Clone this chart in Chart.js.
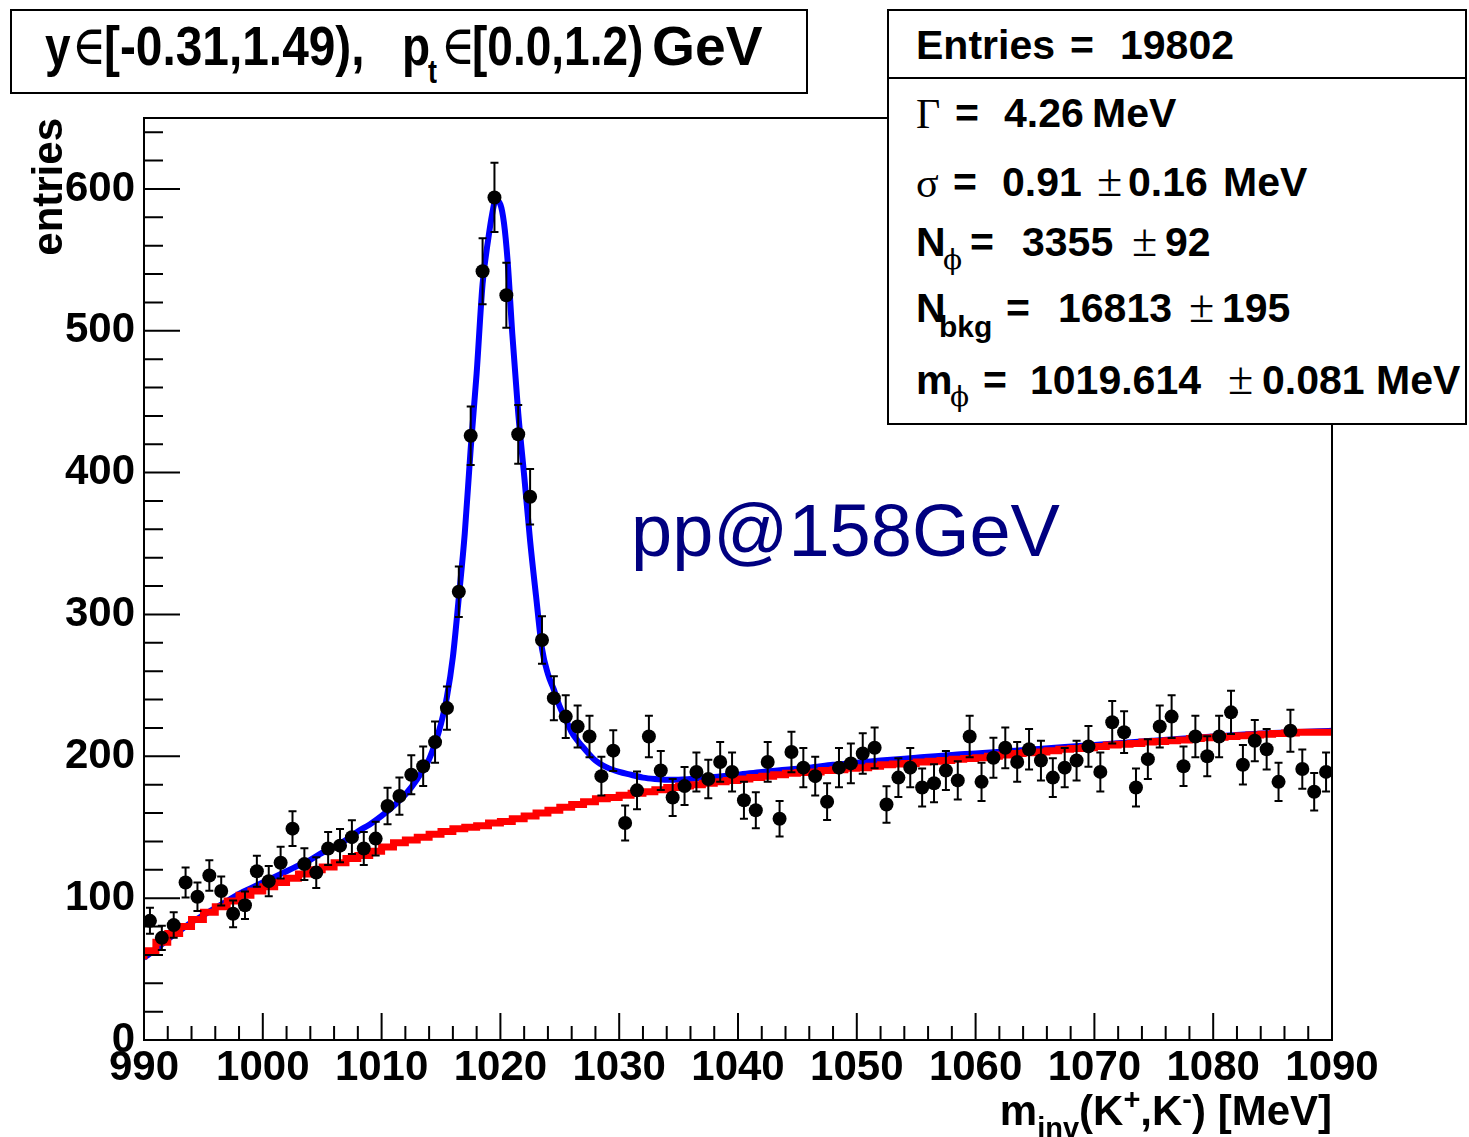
<!DOCTYPE html>
<html><head><meta charset="utf-8">
<script src="https://cdn.jsdelivr.net/npm/chart.js@4.4.1/dist/chart.umd.min.js"></script>
<style>
html,body{margin:0;padding:0;background:#fff;}
#wrap{position:relative;width:1469px;height:1137px;overflow:hidden;background:#fff;}
canvas{position:absolute;left:0;top:0;}
.t{position:absolute;white-space:nowrap;font-family:'Liberation Sans',Arial,Helvetica,sans-serif;font-weight:bold;color:#000;}
.g{font-family:'Liberation Serif','DejaVu Serif','Times New Roman',serif;font-weight:normal;}
.p{font-family:'DejaVu Serif','Liberation Serif',serif;font-weight:normal;}
.box{position:absolute;background:#fff;border:2px solid #000;box-sizing:border-box;}
</style></head>
<body><div id="wrap"><canvas id="c" width="1469" height="1137"></canvas></div>
<script>
// ---- data ----
const xMin = 990, xMax = 1090, nBins = 100;          // m_inv range [MeV], 1 MeV bins
const counts = [
  84, 72, 81,111,101,116,105, 89, 95,119,
 112,125,149,124,118,135,137,143,135,142,
 165,172,187,193,210,234,316,426,542,594,
 525,427,383,282,241,228,221,214,186,204,
 153,176,214,190,171,179,189,184,196,189,
 169,162,196,156,203,192,186,168,192,195,
 202,206,166,185,192,178,181,190,183,214,
 182,199,206,196,205,197,185,192,197,207,
 189,224,217,178,198,221,228,193,214,200,
 214,231,194,211,205,182,218,191,175,189];
// background fit (red), value per 1 MeV bin
const background = [
  57, 63, 69, 75, 80, 85, 90, 94, 98,102,
 105,108,111,114,117,120,122,125,128,130,
 133,136,139,141,143,145,147,149,150,151,
 153,154,156,158,160,162,164,166,168,170,
 171,172.5,174,175,176.5,178,179,180,181,182,
 183,184,185,186,187,188,188.5,189,190,190.5,
 191.5,192,193,194,194.5,195,196,196.5,197,198,
 198.5,199,200,201,202,202.5,203,204,205,205.5,
 206,207,208,208.5,209,210,210.5,211,211.5,212.5,
 213,213.5,214,214.5,215,215.5,216,216.5,217,217];
// full fit (blue): signal + background
const fitMass = [990,991,992,993,994,995,996,997,998,999,1000,1001,1002,1003,1004,1005,1006,1007,1008,1009,1010,1011,1012,1013,1014,
  1014.5,1015,1015.5,1016,1016.5,1017,1017.5,1018,1018.5,1019,1019.3,1019.6,1020,1020.3,1020.6,1021,1021.5,1022,1022.5,1023,1023.5,1024,1024.5,1025,1025.5,1026,1026.5,1027,
  1028,1029,1030,1031,1032,1033,1034,1035,1036,1038,1040,1042,1044,1046,1048,1050,1052,1055,1058,1060,1065,1070,1075,1080,1085,1090];
const fitValue = [58,64,71,77,83,88,93,98,103,107,111,115,119,123,127,132,136,141,147,152,158,165,173,184,198,
  209,223,242,270,312,357,417,470,533,566,582,592,589,576,550,498,442,398,352,313,276,258,247,235,226,217,211,206,
  197,192,189,187,185,184,183.5,183.5,184,185.5,187,189,190.5,192,194,195.5,197,199,201,202,205,208,211,214,216.5,218];
const xTickLabels = [990,1000,1010,1020,1030,1040,1050,1060,1070,1080,1090];
const yTickLabels = [0,100,200,300,400,500,600];

// ---- derived ----
const binW = (xMax - xMin) / nBins;
const centers = counts.map((_, i) => xMin + (i + 0.5) * binW);
const errors = counts.map(v => Math.sqrt(v));              // Poisson errors
const dataPts = counts.map((v, i) => ({x: centers[i], y: v}));
const bkgPts = background.map((v, i) => ({x: xMin + i * binW, y: v}));
bkgPts.push({x: xMax, y: background[background.length - 1]});
const fitPts = fitMass.map((m, i) => ({x: m, y: fitValue[i]}));

const FONT = "'Liberation Sans', Arial, Helvetica, sans-serif";

const rootStyle = {
  id: 'rootStyle',
  beforeDatasetDraw(chart, args) {
    if (args.index !== 0) return;
    const {ctx, chartArea: ca, scales: {x, y}} = chart;
    ctx.save();
    ctx.beginPath(); ctx.rect(ca.left, ca.top, ca.right - ca.left, ca.bottom - ca.top); ctx.clip();
    ctx.strokeStyle = '#000'; ctx.lineWidth = 2;
    counts.forEach((v, i) => {
      const px = x.getPixelForValue(centers[i]);
      const y1 = y.getPixelForValue(v + errors[i]);
      const y2 = y.getPixelForValue(Math.max(0, v - errors[i]));
      ctx.beginPath();
      ctx.moveTo(px, y1); ctx.lineTo(px, y2);
      ctx.moveTo(px - 4, y1); ctx.lineTo(px + 4, y1);
      ctx.moveTo(px - 4, y2); ctx.lineTo(px + 4, y2);
      ctx.stroke();
    });
    ctx.restore();
  },
  afterDraw(chart) {
    const {ctx, chartArea: ca, scales: {x, y}} = chart;
    ctx.save();
    ctx.strokeStyle = '#000'; ctx.lineWidth = 2;
    ctx.strokeRect(ca.left, ca.top, ca.right - ca.left, ca.bottom - ca.top);
    ctx.beginPath();
    x.ticks.forEach(t => {
      if (Math.abs(t.value % 2) > 1e-6) return;
      const p = x.getPixelForValue(t.value);
      const len = (t.value % 10 === 0) ? 27 : 14;
      ctx.moveTo(p, ca.bottom); ctx.lineTo(p, ca.bottom - len);
    });
    y.ticks.forEach(t => {
      if (Math.abs(t.value % 20) > 1e-6) return;
      const p = y.getPixelForValue(t.value);
      const len = (t.value % 100 === 0) ? 36 : 19;
      ctx.moveTo(ca.left, p); ctx.lineTo(ca.left + len, p);
    });
    ctx.stroke();
    ctx.restore();
  }
};

new Chart(document.getElementById('c'), {
  type: 'line',
  data: {
    datasets: [
      {label: 'data', data: dataPts, showLine: false, pointRadius: 7, pointHoverRadius: 7,
       pointStyle: 'circle', pointBackgroundColor: '#000', pointBorderColor: '#000', pointBorderWidth: 0, order: 0},
      {label: 'background', data: bkgPts, stepped: 'after', borderColor: '#ff0000', borderWidth: 7,
       pointRadius: 0, fill: false, order: 1},
      {label: 'fit', data: fitPts, borderColor: '#0000ff', borderWidth: 6, pointRadius: 0,
       cubicInterpolationMode: 'monotone', fill: false, order: 2}
    ]
  },
  options: {
    responsive: false, animation: false, devicePixelRatio: 1,
    layout: {padding: {left: 0, right: 137, top: 118, bottom: 0}},
    plugins: {legend: {display: false}, tooltip: {enabled: false}},
    scales: {
      x: {
        type: 'linear', min: xMin, max: xMax,
        afterFit(s) { s.height = 97; },
        afterBuildTicks(s) { s.ticks = []; for (let v = xMin; v <= xMax; v += 2) s.ticks.push({value: v}); },
        ticks: {stepSize: 2, autoSkip: false, maxRotation: 0, minRotation: 0, padding: 3, color: '#000',
                font: {family: FONT, size: 42, weight: 'bold'},
                callback: v => xTickLabels.includes(v) ? String(v) : ''},
        grid: {display: false, drawTicks: false}, border: {display: false}
      },
      y: {
        type: 'linear', min: 0, max: 650,
        afterFit(s) { s.width = 144; },
        afterBuildTicks(s) { s.ticks = []; for (let v = 0; v <= 640; v += 20) s.ticks.push({value: v}); },
        ticks: {stepSize: 20, autoSkip: false, padding: 9, color: '#000',
                font: {family: FONT, size: 42, weight: 'bold'},
                callback: v => yTickLabels.includes(v) ? String(v) : ''},
        title: {display: true, text: 'entries', align: 'end', color: '#000',
                font: {family: FONT, size: 42, weight: 'bold'}, padding: {top: 25, bottom: 0}},
        grid: {display: false, drawTicks: false}, border: {display: false}
      }
    }
  },
  plugins: [rootStyle]
});

// ---- text overlays ----
const wrap = document.getElementById('wrap');
function box(l, t, r, b) {
  const d = document.createElement('div'); d.className = 'box';
  Object.assign(d.style, {left: l + 'px', top: t + 'px', width: (r - l) + 'px', height: (b - t) + 'px'});
  wrap.appendChild(d); return d;
}
function txt(html, x, base, size, opts = {}) {
  const d = document.createElement('div');
  d.className = 't' + (opts.greek ? ' g' : '') + (opts.phi ? ' p' : '');
  d.innerHTML = html;
  d.style.fontSize = size + 'px';
  d.style.lineHeight = size + 'px';
  d.style.top = (base - 0.845 * size) + 'px';
  if (opts.right !== undefined) d.style.right = (1469 - opts.right) + 'px'; else d.style.left = x + 'px';
  if (opts.normal) d.style.fontWeight = 'normal';
  if (opts.color) d.style.color = opts.color;
  if (opts.sy || opts.sx) {
    d.style.transform = 'scale(' + (opts.sx || 1) + ',' + (opts.sy || 1) + ')';
    d.style.transformOrigin = '0 ' + (0.845 * size) + 'px';
  }
  wrap.appendChild(d); return d;
}

// kinematic range box
box(10, 9, 808, 94);
const S = 46, SY = 1.2, B = 65;
txt('y', 45, B, S, {sy: SY});
txt('\u2208', 72, B, S, {greek: true, sy: SY});
txt('[-0.31,1.49),', 104, B, S, {sy: SY, sx: 1.04});
txt('p', 402, B, S, {sy: SY});
txt('t', 428, 84, 27, {sy: SY});
txt('\u2208', 441, B, S, {greek: true, sy: SY});
txt('[0.0,1.2)', 472, B, S, {sy: SY});
txt('GeV', 652, B, S, {sy: SY, sx: 1.2});

// fit statistics box
box(887, 9, 1467, 425);
const sep = document.createElement('div');
Object.assign(sep.style, {position: 'absolute', left: '887px', top: '77px', width: '580px', height: '2px', background: '#000'});
wrap.appendChild(sep);
const F = 41, G = 42;
txt('Entries', 916, 60, F); txt('=', 1070, 60, F); txt('19802', 1120, 60, F);
txt('\u0393', 916, 128, G, {greek: true}); txt('=', 955, 128, F); txt('4.26', 1004, 128, F); txt('MeV', 1092, 128, F);
txt('\u03c3', 916, 197, G, {greek: true}); txt('=', 953, 197, F); txt('0.91', 1002, 197, F);
txt('\u00b1', 1097, 197, 46, {greek: true}); txt('0.16', 1128, 197, F); txt('MeV', 1223, 197, F);
txt('N', 916, 257, F); txt('\u03d5', 943, 270, 28, {phi: true}); txt('=', 970, 257, F); txt('3355', 1022, 257, F);
txt('\u00b1', 1132, 257, 46, {greek: true}); txt('92', 1165, 257, F);
txt('N', 916, 323, F); txt('bkg', 939, 337, 30); txt('=', 1006, 323, F); txt('16813', 1058, 323, F);
txt('\u00b1', 1189, 323, 46, {greek: true}); txt('195', 1222, 323, F);
txt('m', 916, 395, F); txt('\u03d5', 950, 407, 28, {phi: true}); txt('=', 983, 395, F); txt('1019.614', 1030, 395, F);
txt('\u00b1', 1228, 395, 46, {greek: true}); txt('0.081', 1262, 395, F); txt('MeV', 1376, 395, F);

// collision system label
txt('pp@158GeV', 631, 557, 74, {normal: true, color: '#000080'});

// x-axis title
txt('m<span style="position:relative;top:13px;font-size:29px">inv</span>(K<span style="position:relative;top:-16px;font-size:29px">+</span>,K<span style="position:relative;top:-16px;font-size:29px">-</span>) [MeV]',
    0, 1125, 42, {right: 1332});
</script>
</body></html>
